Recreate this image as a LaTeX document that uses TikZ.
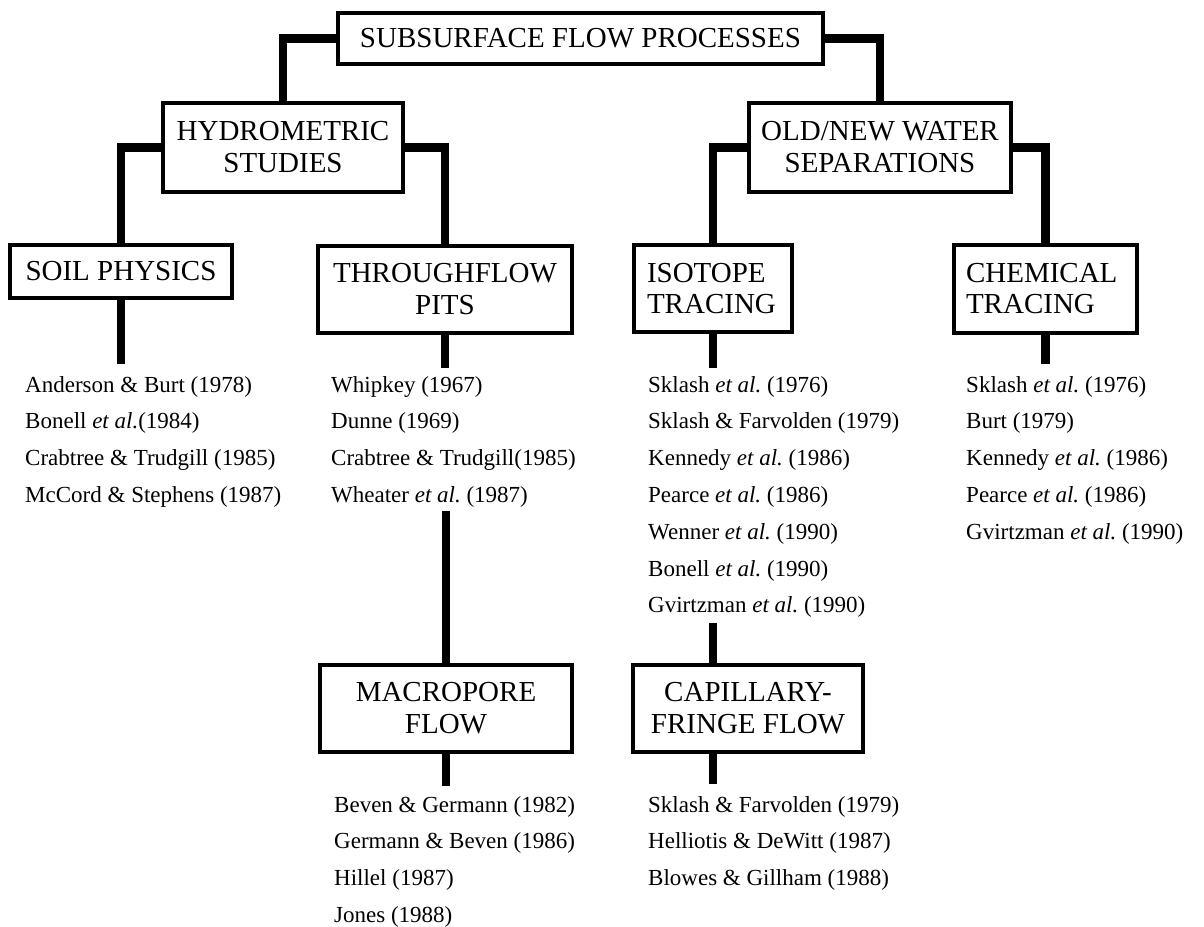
\documentclass[tikz,border=0pt]{standalone}
\usepackage{fontspec}
\setmainfont{Liberation Serif}
\frenchspacing
\begin{document}
\begin{tikzpicture}[x=1pt,y=-1pt,
  boxst/.style={draw, line width=4.5pt, inner sep=0pt, align=center,
    font=\fontsize{29}{32}\selectfont},
  lboxst/.style={draw, line width=4.5pt, inner ysep=0pt, align=left,
    font=\fontsize{29}{31}\selectfont},
  refst/.style={anchor=north west, inner sep=0pt, align=left,
    font=\fontsize{23}{36.8}\selectfont\frenchspacing},
  conn/.style={line width=8.5pt}]
\fill[white] (0,0) rectangle (1204,926);
\useasboundingbox (0,0) rectangle (1204,926);

% boxes
\node[boxst, minimum width=485, minimum height=51] (top) at (580.5,38.5) {SUBSURFACE FLOW PROCESSES};
\node[boxst, minimum width=240, minimum height=89] (hyd) at (283,147.5) {HYDROMETRIC\\STUDIES};
\node[boxst, minimum width=262, minimum height=89] (old) at (880,147.5) {OLD/NEW WATER\\SEPARATIONS};
\node[boxst, minimum width=222, minimum height=53] (soil) at (121,271.5) {SOIL PHYSICS};
\node[boxst, minimum width=254, minimum height=87] (thr) at (445,289.5) {THROUGHFLOW\\PITS};
\node[lboxst, text width=132, inner xsep=13, minimum height=87] (iso) at (713,288.5) {ISOTOPE\\TRACING};
\node[lboxst, text width=159, inner xsep=12, minimum height=88] (chem) at (1045.5,289) {CHEMICAL\\TRACING};
\node[boxst, minimum width=252, minimum height=87] (macro) at (446,708.5) {MACROPORE\\FLOW};
\node[boxst, minimum width=230, minimum height=87] (cap) at (748,708.5) {CAPILLARY-\\FRINGE FLOW};

% reference lists
\node[refst] (slist) at (25,376) {Anderson \& Burt (1978)\\Bonell \textit{et al.}(1984)\\Crabtree \& Trudgill (1985)\\McCord \& Stephens (1987)};
\node[refst] (tlist) at (331,376) {Whipkey (1967)\\Dunne (1969)\\Crabtree \& Trudgill(1985)\\Wheater \textit{et al.} (1987)};
\node[refst] (ilist) at (648,376) {Sklash \textit{et al.} (1976)\\Sklash \& Farvolden (1979)\\Kennedy \textit{et al.} (1986)\\Pearce \textit{et al.} (1986)\\Wenner \textit{et al.} (1990)\\Bonell \textit{et al.} (1990)\\Gvirtzman \textit{et al.} (1990)};
\node[refst] (clist) at (966,376) {Sklash \textit{et al.} (1976)\\Burt (1979)\\Kennedy \textit{et al.} (1986)\\Pearce \textit{et al.} (1986)\\Gvirtzman \textit{et al.} (1990)};
\node[refst] (mlist) at (334,796) {Beven \& Germann (1982)\\Germann \& Beven (1986)\\Hillel (1987)\\Jones (1988)};
\node[refst] (plist) at (648,796) {Sklash \& Farvolden (1979)\\Helliotis \& DeWitt (1987)\\Blowes \& Gillham (1988)};

% connectors
\draw[conn] (top.west) -| (hyd.north);
\draw[conn] (top.east) -| (old.north);
\draw[conn] (hyd.west) -| (soil.north);
\draw[conn] (hyd.east) -| (thr.north);
\draw[conn] (old.west) -| (iso.north);
\draw[conn] (old.east) -| (chem.north);
\draw[conn, shorten >=12pt] (soil.south) -- (soil.south |- slist.north);
\draw[conn, shorten >=8pt] (thr.south) -- (thr.south |- tlist.north);
\draw[conn, shorten >=8pt] (iso.south) -- (iso.south |- ilist.north);
\draw[conn, shorten >=12pt] (chem.south) -- (chem.south |- clist.north);
\draw[conn, shorten >=3pt] (macro.north) -- (macro.north |- tlist.south);
\draw[conn, shorten >=10pt] (macro.south) -- (macro.south |- mlist.north);
\draw[conn, shorten >=5pt] (cap.north -| iso.south) -- (iso.south |- ilist.south);
\draw[conn, shorten >=12pt] (cap.south -| iso.south) -- (iso.south |- plist.north);
\end{tikzpicture}
\end{document}
